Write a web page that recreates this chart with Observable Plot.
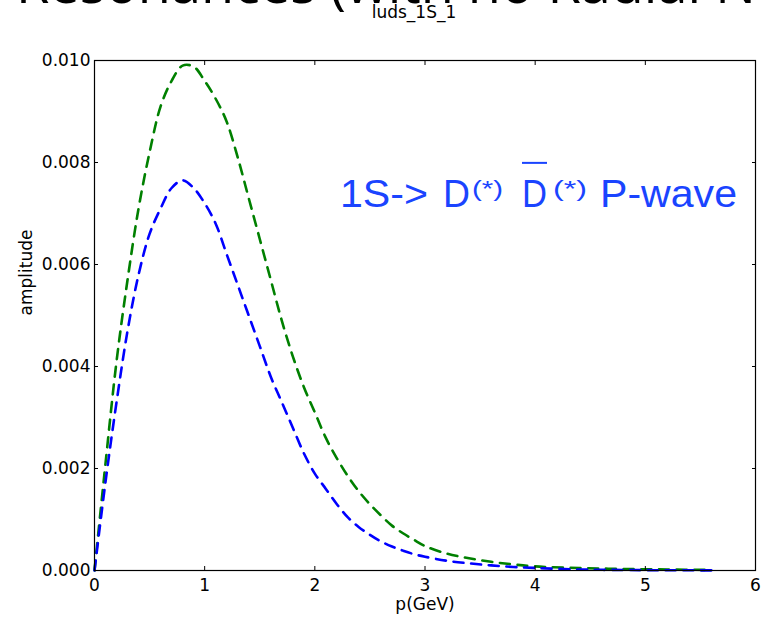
<!DOCTYPE html>
<html>
<head>
<meta charset="utf-8">
<script src="https://cdn.jsdelivr.net/npm/d3@7"></script>
<script src="https://cdn.jsdelivr.net/npm/@observablehq/plot@0.6"></script>
<style>
  body { margin: 0; background: #fff; }
  #wrap { position: relative; width: 761px; height: 621px; overflow: hidden; background: #fff; }
  #chart { position: absolute; left: 0; top: 0; }
  #big { position: absolute; left: 16px; top: -45px; font: 54px/54px "Open Sans", sans-serif; white-space: nowrap; color: #000; z-index: 2; }
  #sub { position: absolute; left: 414px; top: 4px; transform: translateX(-50%); font: 17px/17px "DejaVu Sans", sans-serif; white-space: nowrap; color: #000; z-index: 3; }
</style>
</head>
<body>
<div id="wrap">
  <div id="chart"></div>
  <div id="big">Resonances (with no Radial Nodes)</div>
  <div id="sub">luds_1S_1</div>
</div>
<script>
// momentum grid (GeV)
const pValues = [0, 0.1, 0.2, 0.3, 0.4, 0.5, 0.6, 0.7, 0.8, 0.9, 1.0, 1.1, 1.2, 1.3, 1.4, 1.5, 1.6, 1.7, 1.8, 1.9, 2.0,
  2.1, 2.2, 2.3, 2.4, 2.5, 2.6, 2.7, 2.8, 2.9, 3.0, 3.2, 3.4, 3.6, 3.8, 4.0, 4.4, 4.8, 5.2, 5.6];
// green dashed series
const greenAmp = [0, 0.0021, 0.0041, 0.0057, 0.0071, 0.0082, 0.0091, 0.0096, 0.0099, 0.00988, 0.0096, 0.00925, 0.0088,
  0.0081, 0.0073, 0.0065, 0.0057, 0.0049, 0.0042, 0.0036, 0.0031, 0.0026, 0.0022, 0.00185, 0.00155, 0.0013, 0.00108,
  0.00088, 0.00073, 0.0006, 0.00048, 0.00033, 0.00024, 0.00017, 0.00012, 0.00008, 0.00005, 0.00003, 0.00002, 0.00001];
// blue dashed series
const blueAmp = [0, 0.00174, 0.0033, 0.0047, 0.0058, 0.0066, 0.0071, 0.0075, 0.00765, 0.0075, 0.0072, 0.0068, 0.0062,
  0.0056, 0.0050, 0.0044, 0.0038, 0.0033, 0.0028, 0.0023, 0.0019, 0.0016, 0.0013, 0.00104, 0.00085, 0.0007, 0.00057,
  0.00047, 0.00039, 0.00032, 0.00027, 0.00019, 0.00014, 0.0001, 0.00007, 0.00005, 0.00002, 0.00001, 0.000005, 0.000003];

const xTicks = [0, 1, 2, 3, 4, 5, 6];
const yTicks = [0, 0.002, 0.004, 0.006, 0.008, 0.010];
const xLabel = "p(GeV)";
const yLabel = "amplitude";
const annotation = [
  {t: "1S->", kind: "main"},
  {t: "D", kind: "main"},
  {t: "(*)", kind: "sup"},
  {t: "D", kind: "bar"},
  {t: "(*)", kind: "sup"},
  {t: "P-wave", kind: "main"}
];

const green = pValues.map((p, i) => ({p, a: greenAmp[i]}));
const blue = pValues.map((p, i) => ({p, a: blueAmp[i]}));

const chart = Plot.plot({
  width: 761,
  height: 621,
  marginLeft: 94,
  marginRight: 6,
  marginTop: 60,
  marginBottom: 51,
  x: {domain: [0, 6]},
  y: {domain: [0, 0.01]},
  style: {fontFamily: "DejaVu Sans", fontSize: "17px", color: "#000", background: "transparent", overflow: "visible"},
  marks: [
    Plot.line(green, {x: "p", y: "a", stroke: "#008000", strokeWidth: 2.6, strokeDasharray: "10,7.7", curve: "catmull-rom"}),
    Plot.line(blue, {x: "p", y: "a", stroke: "#0000ff", strokeWidth: 2.6, strokeDasharray: "10,7.7", curve: "catmull-rom"}),
    Plot.frame({stroke: "#000", strokeWidth: 1.2}),
    Plot.axisX({anchor: "bottom", ticks: xTicks, tickSize: 0, tickPadding: 8, tickFormat: d => String(d), label: null, fontSize: 17}),
    Plot.axisX({anchor: "bottom", ticks: xTicks, tickSize: 4, dy: -4, tickFormat: () => "", label: null}),
    Plot.axisX({anchor: "top", ticks: xTicks, tickSize: 4, dy: 4, tickFormat: () => "", label: null}),
    Plot.axisY({anchor: "left", ticks: yTicks, tickSize: 0, tickPadding: 4, tickFormat: d3.format(".3f"), label: null, fontSize: 17}),
    Plot.axisY({anchor: "left", ticks: yTicks, tickSize: 4, dx: 4, tickFormat: () => "", label: null}),
    Plot.axisY({anchor: "right", ticks: yTicks, tickSize: 4, dx: -4, tickFormat: () => "", label: null}),
    Plot.text([xLabel], {frameAnchor: "bottom", dy: 39, text: d => d, fontSize: 17, fill: "#000"}),
    Plot.text([yLabel], {frameAnchor: "left", dx: -68, rotate: -90, text: d => d, fontSize: 17, fill: "#000"})
  ]
});

// annotation anchored in data coordinates
const sx = chart.scale("x"), sy = chart.scale("y");
const ax = sx.apply(2.233), ay = sy.apply(0.00712);
const annColor = "#1a44ff";
const layout = [
  {dx: 0, w: 88, size: 38, dy: 0},
  {dx: 103, w: 27, size: 38, dy: 0},
  {dx: 132, w: 31, size: 22, dy: -11},
  {dx: 182, w: 25, size: 38, dy: 0},
  {dx: 213, w: 34, size: 22, dy: -11},
  {dx: 260, w: 137, size: 38, dy: 0}
];
const g = d3.select(chart).append("g")
  .attr("fill", annColor)
  .attr("text-anchor", "start")
  .attr("font-family", "'Liberation Sans', Arial, sans-serif");
annotation.forEach((seg, i) => {
  const L = layout[i];
  g.append("text")
    .attr("x", ax + L.dx)
    .attr("y", ay + L.dy)
    .attr("text-anchor", "start")
    .attr("font-size", L.size)
    .attr("textLength", L.w)
    .attr("lengthAdjust", "spacingAndGlyphs")
    .text(seg.t);
  if (seg.kind === "bar") {
    g.append("rect")
      .attr("x", ax + L.dx)
      .attr("y", ay - 45)
      .attr("width", L.w)
      .attr("height", 2);
  }
});

document.getElementById("chart").appendChild(chart);
</script>
</body>
</html>
